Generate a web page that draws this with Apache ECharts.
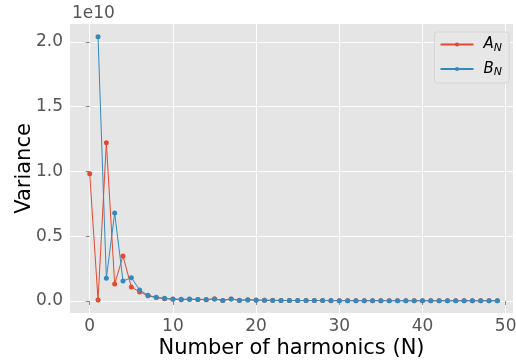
<!DOCTYPE html>
<html>
<head>
<meta charset="utf-8">
<script src="https://cdn.jsdelivr.net/npm/echarts@6/dist/echarts.min.js"></script>
<style>
  html, body { margin: 0; padding: 0; background: #fff; }
  #chart { width: 516px; height: 361px; }
</style>
</head>
<body>
<div id="chart"></div>
<script>
// variance values in units of 1e10, index = number of harmonics N
const harmonics = Array.from({ length: 50 }, (_, i) => i);
const varA = [
  0.983, 0.008, 1.222, 0.131, 0.347, 0.108, 0.070, 0.040, 0.026, 0.018,
  0.014, 0.010, 0.012, 0.011, 0.009, 0.018, 0.004, 0.015, 0.006, 0.010,
  0.007, 0.006, 0.005, 0.004, 0.004, 0.003, 0.003, 0.003, 0.003, 0.002,
  0.002, 0.002, 0.002, 0.002, 0.002, 0.002, 0.002, 0.001, 0.001, 0.001,
  0.001, 0.001, 0.001, 0.001, 0.001, 0.001, 0.001, 0.001, 0.001, 0.001
];
const varB = [
  null, 2.041, 0.175, 0.679, 0.154, 0.180, 0.085, 0.044, 0.028, 0.020,
  0.015, 0.013, 0.015, 0.012, 0.012, 0.014, 0.004, 0.016, 0.004, 0.008,
  0.006, 0.005, 0.004, 0.004, 0.003, 0.003, 0.003, 0.003, 0.003, 0.003,
  0.002, 0.002, 0.002, 0.002, 0.002, 0.002, 0.002, 0.002, 0.002, 0.002,
  0.002, 0.002, 0.002, 0.002, 0.002, 0.002, 0.002, 0.002, 0.002, 0.002
];
const xTicks = [0, 10, 20, 30, 40, 50];
const yTicks = [0, 0.5, 1.0, 1.5, 2.0];

const RED = "#E24A33";
const BLUE = "#348ABD";
const FONT = "DejaVu Sans";

const chart = echarts.init(document.getElementById("chart"), null, { renderer: "canvas" });

const pairs = (ys) => harmonics.map((n, i) => [n, ys[i]]);

chart.setOption({
  animation: false,
  textStyle: { fontFamily: FONT },
  grid: {
    left: 70, right: 3, top: 24, bottom: 48,
    outerBoundsMode: "none", containLabel: false,
    show: true, backgroundColor: "#E5E5E5", borderWidth: 0
  },
  xAxis: {
    type: "value",
    min: -2.37,
    max: 50.88,
    name: "Number of harmonics (N)",
    nameLocation: "middle",
    nameGap: 25,
    nameMoveOverlap: false,
    nameTextStyle: { color: "#000", fontSize: 21, fontFamily: FONT },
    axisLine: { show: false },
    axisTick: { show: true, length: 4, lineStyle: { color: "#888" }, customValues: xTicks },
    axisLabel: { color: "#555", fontSize: 17, margin: 5, customValues: xTicks, fontFamily: FONT },
    splitLine: { show: true, lineStyle: { color: "#fff", width: 1 } }
  },
  yAxis: {
    type: "value",
    min: -0.093,
    max: 2.139,
    name: "Variance",
    nameLocation: "middle",
    nameGap: 35,
    nameMoveOverlap: false,
    nameTextStyle: { color: "#000", fontSize: 21, fontFamily: FONT },
    axisLine: { show: false },
    axisTick: { show: true, length: 4, lineStyle: { color: "#888" }, customValues: yTicks },
    axisLabel: { color: "#555", fontSize: 17, margin: 7, customValues: yTicks, fontFamily: FONT,
      formatter: (v) => v.toFixed(1) },
    splitLine: { show: true, lineStyle: { color: "#fff", width: 1 } }
  },
  legend: {
    right: 7,
    top: 32,
    orient: "vertical",
    itemWidth: 33,
    itemHeight: 5,
    itemGap: 8,
    padding: [5, 7, 5, 5],
    backgroundColor: "rgba(232,232,232,0.85)",
    borderColor: "#d6d6d6",
    borderWidth: 1,
    borderRadius: 3,
    formatter: (name) => "{m|" + name[0] + "}{s|N}",
    textStyle: {
      color: "#000",
      rich: {
        m: { fontSize: 15, fontStyle: "italic", fontFamily: FONT, padding: [0, 0, 0, 5] },
        s: { fontSize: 11, fontStyle: "italic", fontFamily: FONT, verticalAlign: "bottom", padding: [7, 0, 0, 0] }
      }
    }
  },
  graphic: [
    { type: "text", left: 72, top: 5, style: { text: "1e10", fontSize: 17, fill: "#555", fontFamily: FONT } }
  ],
  series: [
    {
      name: "A_N",
      type: "line",
      data: pairs(varA),
      symbol: "circle",
      symbolSize: 5,
      lineStyle: { color: RED, width: 1 },
      itemStyle: { color: RED }
    },
    {
      name: "B_N",
      type: "line",
      data: pairs(varB),
      connectNulls: false,
      symbol: "circle",
      symbolSize: 5,
      lineStyle: { color: BLUE, width: 1 },
      itemStyle: { color: BLUE }
    }
  ]
});
</script>
</body>
</html>
